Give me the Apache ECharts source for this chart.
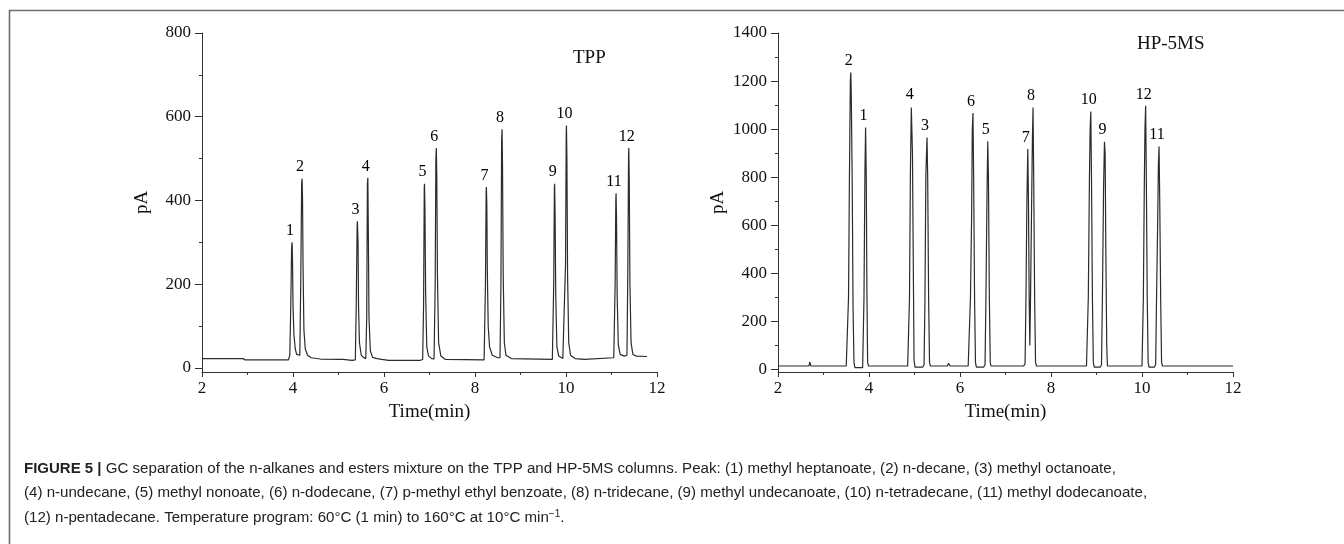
<!DOCTYPE html>
<html>
<head>
<meta charset="utf-8">
<script src="https://cdn.jsdelivr.net/npm/echarts@6/dist/echarts.min.js"></script>
<style>
html,body{margin:0;padding:0;background:#fff;}
#c{width:1344px;height:544px;}
</style>
</head>
<body>
<div id="c"></div>
<script>
// ---------- DATA ----------
// TPP chromatogram trace: [time (min), signal (pA)]
var tppTrace = [
  [2.0,22],[2.9,22],[2.95,19],[3.9,19],
  [3.93,30],[3.95,140],[3.97,290],[3.98,300],[3.99,250],[4.0,150],[4.02,80],[4.05,45],[4.08,32],[4.12,28],
  [4.15,30],[4.17,200],[4.19,440],[4.2,452],[4.21,400],[4.22,250],[4.24,90],[4.27,45],[4.32,30],[4.4,24],[4.6,21],[5.1,20],[5.3,18],
  [5.37,19],[5.39,150],[5.41,340],[5.415,350],[5.43,300],[5.44,150],[5.46,60],[5.5,30],[5.55,25],
  [5.6,22],[5.62,120],[5.635,440],[5.645,454],[5.655,330],[5.67,120],[5.7,40],[5.75,25],[5.85,22],[5.95,20],[6.1,18],[6.8,18],
  [6.85,20],[6.87,150],[6.885,430],[6.89,440],[6.9,380],[6.915,180],[6.94,50],[6.98,28],[7.05,22],
  [7.1,21],[7.125,200],[7.14,500],[7.15,525],[7.16,460],[7.175,220],[7.2,60],[7.25,28],[7.35,20],[8.2,19],
  [8.21,22],[8.23,200],[8.245,420],[8.25,432],[8.26,390],[8.27,240],[8.29,100],[8.32,50],[8.38,30],[8.5,24],
  [8.55,24],[8.57,200],[8.585,540],[8.595,570],[8.605,480],[8.62,220],[8.645,60],[8.68,30],[8.8,22],[9.7,20],
  [9.71,22],[9.73,200],[9.745,430],[9.75,440],[9.76,370],[9.775,170],[9.8,50],[9.84,28],[9.93,22],
  [9.97,24],[9.99,250],[10.005,560],[10.01,579],[10.02,500],[10.035,220],[10.06,60],[10.1,30],[10.2,22],[10.4,20],[10.42,24],[11.05,24],
  [11.06,28],[11.08,200],[11.095,400],[11.1,417],[11.11,360],[11.125,170],[11.15,55],[11.19,32],[11.28,28],
  [11.34,30],[11.36,250],[11.375,510],[11.38,525],[11.39,450],[11.405,200],[11.43,60],[11.47,32],[11.55,28],[11.78,27]
];
// HP-5MS chromatogram trace: [time (min), signal (pA)]
var hpTrace = [
  [2.0,15],[2.68,15],[2.7,32],[2.72,15],[3.5,15],
  [3.53,18],[3.55,300],[3.57,800],[3.59,1200],[3.6,1236],[3.61,1150],[3.63,800],[3.65,250],[3.67,30],[3.69,8],[3.86,8],
  [3.875,15],[3.89,300],[3.91,810],[3.925,1007],[3.94,800],[3.955,300],[3.97,30],[3.99,15],[4.85,15],
  [4.87,20],[4.89,300],[4.91,820],[4.93,1090],[4.94,1097],[4.955,900],[4.975,400],[4.99,40],[5.01,10],[5.18,10],
  [5.21,20],[5.23,300],[5.25,810],[5.275,965],[5.29,800],[5.31,300],[5.33,30],[5.35,15],[5.72,15],[5.75,26],[5.78,15],[6.18,15],
  [6.21,20],[6.23,300],[6.255,630],[6.27,1000],[6.285,1067],[6.3,800],[6.32,300],[6.34,30],[6.36,10],[6.52,10],
  [6.55,20],[6.57,300],[6.595,750],[6.61,950],[6.625,800],[6.645,300],[6.665,30],[6.68,15],[7.4,15],
  [7.43,25],[7.45,300],[7.47,700],[7.49,917],[7.505,700],[7.52,300],[7.535,100],[7.55,300],[7.57,620],[7.59,940],[7.605,1090],[7.62,800],[7.64,300],[7.66,30],[7.68,15],[7.88,15],[7.9,20],[7.92,15],[8.78,15],
  [8.8,20],[8.82,300],[8.845,800],[8.86,1000],[8.875,1073],[8.89,800],[8.91,300],[8.93,30],[8.95,10],[9.08,10],
  [9.11,20],[9.13,300],[9.155,750],[9.175,948],[9.19,900],[9.205,500],[9.225,100],[9.24,15],[10.0,15],
  [10.01,20],[10.03,300],[10.05,750],[10.065,1000],[10.08,1097],[10.095,800],[10.115,300],[10.135,30],[10.155,10],[10.27,10],
  [10.3,20],[10.32,300],[10.345,620],[10.36,850],[10.375,928],[10.39,700],[10.41,300],[10.43,30],[10.45,15],[11.5,15],[11.52,20],[11.54,15],[12.0,15]
];
// Peak labels
var tppPeakNo     = ['1','2','3','4','5','6','7','8','9','10','11','12'];
var tppPeakTime   = [3.98,4.2,5.415,5.645,6.89,7.15,8.25,8.595,9.75,10.01,11.1,11.38];
var tppPeakHeight = [300,452,350,454,440,525,432,570,440,579,417,525];
var hpPeakNo      = ['2','1','4','3','6','5','7','8','10','9','12','11'];
var hpPeakTime    = [3.6,3.925,4.94,5.275,6.285,6.61,7.49,7.605,8.875,9.175,10.08,10.375];
var hpPeakHeight  = [1236,1007,1097,965,1067,951,917,1090,1073,948,1097,928];
// Axis ticks
var tppYTicks = [0,200,400,600,800];
var tppYMinor = [100,300,500,700];
var hpYTicks  = [0,200,400,600,800,1000,1200,1400];
var hpYMinor  = [100,300,500,700,900,1100,1300];
var titles = ['TPP','HP-5MS'];
var captionLines = [
  ['FIGURE 5 |', ' GC separation of the n-alkanes and esters mixture on the TPP and HP-5MS columns. Peak: (1) methyl heptanoate, (2) n-decane, (3) methyl octanoate,'],
  ['', '(4) n-undecane, (5) methyl nonoate, (6) n-dodecane, (7) p-methyl ethyl benzoate, (8) n-tridecane, (9) methyl undecanoate, (10) n-tetradecane, (11) methyl dodecanoate,'],
  ['', '(12) n-pentadecane. Temperature program: 60°C (1 min) to 160°C at 10°C min', '−1', '.']
];

// ---------- CHART ----------
var serif = 'Liberation Serif';
var ink = '#111';
var axisCol = '#333';

function peakPoints(nos, ts, hs){
  return nos.map(function(n,i){ return {value:[ts[i],hs[i]], name:n}; });
}
function plain(v){ return String(v); }

function xAxisCfg(gi){
  return {
    type:'value', gridIndex:gi, min:2, max:12, interval:2,
    name:'Time(min)', nameLocation:'middle', nameGap:31,
    nameTextStyle:{fontFamily:serif, fontSize:19, color:ink},
    axisLine:{show:true, onZero:false, lineStyle:{color:axisCol, width:1}},
    axisTick:{show:true, inside:false, length:5, lineStyle:{color:axisCol}},
    minorTick:{show:true, splitNumber:2, length:3, lineStyle:{color:axisCol}},
    axisLabel:{fontFamily:serif, fontSize:17, color:ink, margin:8, formatter:plain},
    splitLine:{show:false}, minorSplitLine:{show:false}
  };
}
function yAxisMain(gi, max, ticks){
  return {
    type:'value', gridIndex:gi, min:-10, max:max, position:'left',
    name:'pA', nameLocation:'middle', nameGap:50, nameRotate:90,
    nameTextStyle:{fontFamily:serif, fontSize:19, color:ink},
    axisLine:{show:true, lineStyle:{color:axisCol, width:1}},
    axisTick:{show:true, length:7, customValues:ticks, lineStyle:{color:axisCol}},
    axisLabel:{fontFamily:serif, fontSize:17, color:ink, margin:11, customValues:ticks, formatter:plain},
    splitLine:{show:false}
  };
}
function yAxisMinor(gi, max, ticks){
  return {
    type:'value', gridIndex:gi, min:-10, max:max, position:'left', offset:0,
    axisLine:{show:false},
    axisTick:{show:true, length:3, customValues:ticks, lineStyle:{color:axisCol}},
    axisLabel:{show:false, customValues:ticks},
    splitLine:{show:false}
  };
}

var lineStyle = {color:'#2b2b2b', width:1.2};
var peakLabel = {show:true, position:'top', distance:3, offset:[-2,0], formatter:'{b}',
                 fontFamily:serif, fontSize:16, color:'#000', opacity:1};

var chart = echarts.init(document.getElementById('c'), null, {renderer:'canvas'});
var capRich = {
  b:{fontFamily:'Liberation Sans', fontWeight:'bold', fontSize:15, color:'#111', lineHeight:18},
  n:{fontFamily:'Liberation Sans', fontSize:15.1, color:'#222', lineHeight:18},
  s:{fontFamily:'Liberation Sans', fontSize:10, color:'#222', lineHeight:18, verticalAlign:'top'}
};
function capText(parts){
  var t = '';
  if (parts[0]) t += '{b|' + parts[0] + '}';
  t += '{n|' + parts[1] + '}';
  if (parts.length > 2) t += '{s|' + parts[2] + '}{n|' + parts[3] + '}';
  return t;
}
var graphics = [
  {type:'line', shape:{x1:9, y1:10.5, x2:1344, y2:10.5}, style:{stroke:'#6e6e6e', lineWidth:1.6}},
  {type:'line', shape:{x1:9.5, y1:10, x2:9.5, y2:544}, style:{stroke:'#6e6e6e', lineWidth:1.6}}
];
captionLines.forEach(function(p, i){
  graphics.push({type:'text', left:24, top:461 + i*24,
    style:{text:capText(p), rich:capRich, fill:'#222'}});
});

chart.setOption({
  animation:false,
  backgroundColor:'#fff',
  title:[
    {text:titles[0], left:568, top:44, textStyle:{fontFamily:serif, fontSize:19, fontWeight:'normal', color:ink}},
    {text:titles[1], left:1132, top:30, textStyle:{fontFamily:serif, fontSize:19, fontWeight:'normal', color:ink}}
  ],
  grid:[
    {left:202, right:687, top:33, bottom:172, containLabel:false},
    {left:778, right:111, top:33, bottom:172, containLabel:false}
  ],
  xAxis:[xAxisCfg(0), xAxisCfg(1)],
  yAxis:[yAxisMain(0,800,tppYTicks), yAxisMinor(0,800,tppYMinor),
         yAxisMain(1,1400,hpYTicks), yAxisMinor(1,1400,hpYMinor)],
  series:[
    {type:'line', xAxisIndex:0, yAxisIndex:0, data:tppTrace, showSymbol:false, symbol:'none', lineStyle:lineStyle, z:2},
    {type:'line', xAxisIndex:1, yAxisIndex:2, data:hpTrace, showSymbol:false, symbol:'none', lineStyle:lineStyle, z:2},
    {type:'scatter', xAxisIndex:0, yAxisIndex:0, data:peakPoints(tppPeakNo,tppPeakTime,tppPeakHeight),
     symbolSize:1, itemStyle:{color:'rgba(0,0,0,0)', opacity:1}, label:peakLabel, silent:true, z:3},
    {type:'scatter', xAxisIndex:1, yAxisIndex:2, data:peakPoints(hpPeakNo,hpPeakTime,hpPeakHeight),
     symbolSize:1, itemStyle:{color:'rgba(0,0,0,0)', opacity:1}, label:peakLabel, silent:true, z:3}
  ],
  graphic:graphics
});
</script>
</body>
</html>
